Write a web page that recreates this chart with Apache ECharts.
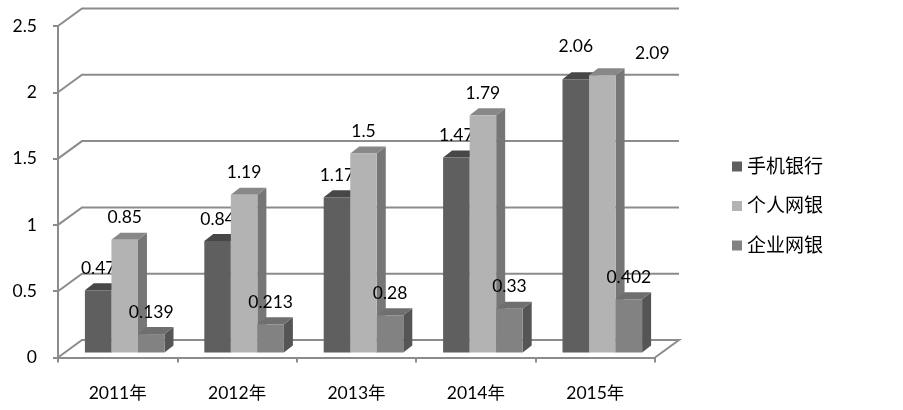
<!DOCTYPE html>
<html><head><meta charset="utf-8">
<style>html,body{margin:0;padding:0;background:#fff}#c{width:903px;height:410px}</style>
<script src="https://cdn.jsdelivr.net/npm/echarts@6/dist/echarts.min.js"></script>
</head><body><div id="c"></div>
<script>
const categories = ['2011年','2012年','2013年','2014年','2015年'];
const mobile = [0.47,0.84,1.17,1.47,2.06];
const personal = [0.85,1.19,1.5,1.79,2.09];
const enterprise = [0.139,0.213,0.28,0.33,0.402];
const mobileLabels = ['0.47','0.84','1.17','1.47','2.06'];
const personalLabels = ['0.85','1.19','1.5','1.79','2.09'];
const enterpriseLabels = ['0.139','0.213','0.28','0.33','0.402'];
const yTicks = [0,0.5,1,1.5,2,2.5];

const FONT = 'Lato, "Noto Sans CJK SC", sans-serif';
const INK = '#000';
const LINE = '#8c8c8c';
const WALL = [24,-17.5], PLANE = [7,-5], DEPTH = [9,-7];
const BAR_FRAC = 0.2222;
const nudges = {'0-4':[0,-11],'1-4':[50,0]};
const palette = [
  {front:'#5f5f5f',top:'#474747',side:'#4a4a4a'},
  {front:'#b3b3b3',top:'#888888',side:'#767676'},
  {front:'#828282',top:'#6f6f6f',side:'#555555'}
];

function wall(params, api){
  const v = api.value(0), cs = params.coordSys;
  const y = api.coord([0,v])[1], l = cs.x, r = cs.x+cs.width;
  const style = {stroke:LINE,lineWidth:2,fill:null};
  const pts = [[l,y],[l+WALL[0],y+WALL[1]],[r+WALL[0],y+WALL[1]]];
  if (v===0) pts.push([r,y]);
  return {type:'polyline',shape:{points:pts},style};
}
function bars(s, labels){
  return function(params, api){
    const i = api.value(0), v = api.value(1);
    const w = api.size([1,0])[0]*BAR_FRAC;
    const t = api.coord([i,v]), b = api.coord([i,0]);
    const x0 = t[0]+(s-1.5)*w+PLANE[0], x1 = x0+w;
    const yt = t[1]+PLANE[1], yb = b[1]+PLANE[1];
    const c = palette[s], dx = DEPTH[0], dy = DEPTH[1];
    const n = nudges[s+'-'+i] || [0,0];
    return {type:'group',children:[
      {type:'polygon',shape:{points:[[x1,yt],[x1+dx,yt+dy],[x1+dx,yb+dy],[x1,yb]]},style:{fill:c.side}},
      {type:'polygon',shape:{points:[[x0,yt],[x0+dx,yt+dy],[x1+dx,yt+dy],[x1,yt]]},style:{fill:c.top}},
      {type:'rect',shape:{x:x0,y:yt,width:w,height:yb-yt},style:{fill:c.front}},
      {type:'text',z2:100,style:{x:(x0+x1)/2+n[0],y:yt-22+n[1],text:labels[i],align:'center',verticalAlign:'middle',
        fill:INK,font:'17.5px '+FONT}}
    ]};
  };
}
function barSeries(name,s,vals,labels){
  return {type:'custom',name,z:3+s,clip:false,renderItem:bars(s,labels),
    itemStyle:{color:palette[s].front},encode:{x:0,y:1},
    data:vals.map((v,i)=>[i,v])};
}
const chart = echarts.init(document.getElementById('c'),null,{renderer:'canvas'});
chart.setOption({
  animation:false,
  backgroundColor:'#fff',
  grid:{left:58,right:248,top:26,bottom:52.5},
  legend:{orient:'vertical',left:727,top:152,itemWidth:10,itemHeight:10,itemGap:20.5,icon:'rect',
    textStyle:{fontFamily:FONT,fontSize:19,color:INK},
    data:['手机银行','个人网银','企业网银']},
  xAxis:{type:'category',data:categories,
    axisLine:{lineStyle:{color:LINE,width:2}},
    axisTick:{show:true,alignWithLabel:false,length:5,lineStyle:{color:LINE,width:2}},
    axisLabel:{margin:27,fontFamily:FONT,fontSize:17.5,color:INK},
    splitLine:{show:false}},
  yAxis:{type:'value',min:0,max:2.5,interval:0.5,
    axisLine:{show:true,lineStyle:{color:LINE,width:2}},
    axisTick:{show:true,length:5,lineStyle:{color:LINE,width:2}},
    axisLabel:{margin:21,fontFamily:FONT,fontSize:17.5,color:INK,padding:[2,0,0,0],formatter:v=>String(v)},
    splitLine:{show:false}},
  series:[
    {type:'custom',name:'wall',z:1,clip:false,silent:true,renderItem:wall,encode:{y:0},data:yTicks.map(v=>[v])},
    barSeries('手机银行',0,mobile,mobileLabels),
    barSeries('个人网银',1,personal,personalLabels),
    barSeries('企业网银',2,enterprise,enterpriseLabels)
  ]
});
</script></body></html>
